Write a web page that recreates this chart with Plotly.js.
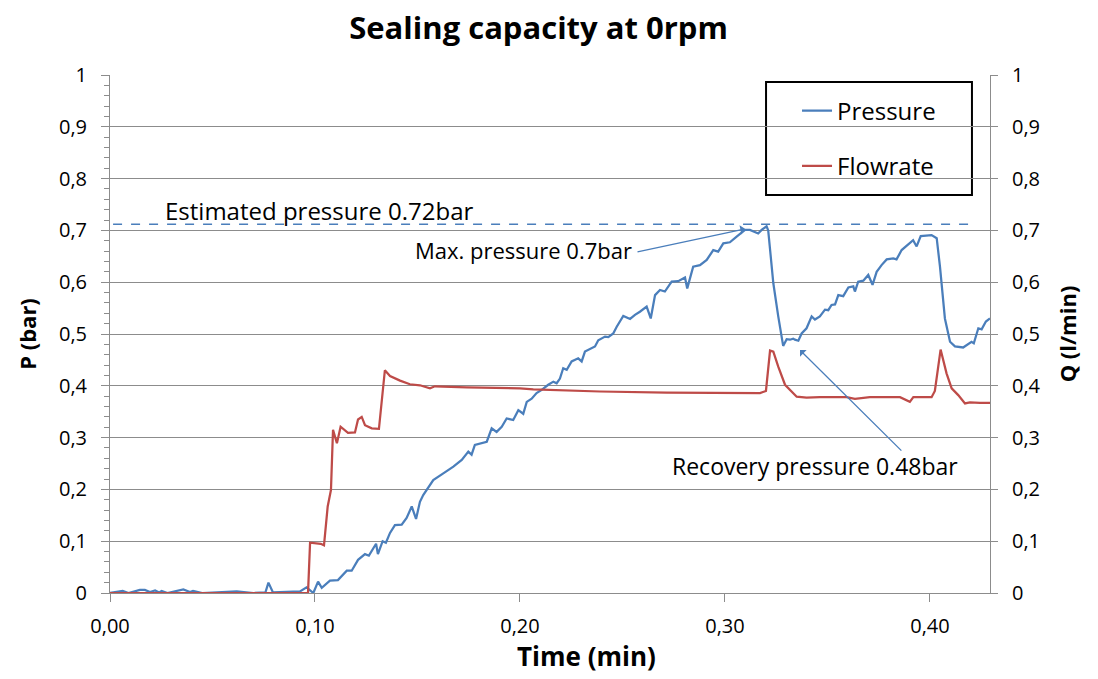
<!DOCTYPE html>
<html>
<head>
<meta charset="utf-8">
<script src="https://cdn.plot.ly/plotly-3.0.1.min.js"></script>
<style>html,body{margin:0;padding:0;background:#fff;}#chart{width:1098px;height:679px;}</style>
</head>
<body>
<div id="chart"></div>
<script>
// ---- Data ----
const pressureTime = [0,0.0062,0.009,0.0146,0.017,0.0195,0.022,0.024,0.0252,0.028,0.0358,0.039,0.0405,0.045,0.0618,0.07,0.0758,0.0773,0.0795,0.085,0.0927,0.0959,0.0992,0.1015,0.1033,0.1073,0.1112,0.1155,0.1179,0.121,0.1244,0.1263,0.1298,0.1307,0.133,0.1346,0.1366,0.139,0.1423,0.1447,0.1472,0.1493,0.1512,0.1528,0.1577,0.1626,0.1675,0.1716,0.1748,0.1764,0.178,0.1838,0.1862,0.1886,0.1911,0.1935,0.1967,0.1992,0.2016,0.2033,0.2057,0.2081,0.2106,0.2138,0.2163,0.2179,0.2195,0.2211,0.2228,0.2252,0.2284,0.2301,0.2317,0.2366,0.2382,0.2415,0.2431,0.2455,0.2472,0.2504,0.2537,0.2561,0.2585,0.2618,0.2638,0.2659,0.2683,0.2707,0.274,0.2772,0.2805,0.2816,0.2845,0.2878,0.2911,0.2943,0.2967,0.2992,0.3024,0.3057,0.3098,0.3122,0.3138,0.3162,0.3179,0.3203,0.3211,0.3236,0.326,0.3284,0.3301,0.3317,0.3333,0.3341,0.3358,0.3374,0.3398,0.3423,0.3439,0.3463,0.3488,0.3504,0.352,0.3537,0.3553,0.3577,0.3602,0.3626,0.3634,0.365,0.3675,0.3699,0.372,0.374,0.3764,0.3789,0.3821,0.3837,0.3862,0.3894,0.3918,0.3935,0.3955,0.4008,0.4033,0.4049,0.4073,0.4098,0.4122,0.4162,0.4179,0.4203,0.4214,0.4236,0.4252,0.4273,0.4293];
const pressure = [0,0.004,0,0.006,0.006,0.002,0.005,0.001,0.004,0,0.007,0.002,0.004,0,0.003,0,0.001,0.02,0.001,0.002,0.003,0.011,0,0.022,0.01,0.024,0.025,0.043,0.043,0.064,0.075,0.072,0.095,0.075,0.1,0.097,0.116,0.131,0.132,0.145,0.167,0.143,0.176,0.189,0.218,0.231,0.244,0.257,0.273,0.267,0.286,0.292,0.318,0.311,0.321,0.337,0.334,0.353,0.346,0.369,0.375,0.386,0.392,0.402,0.408,0.405,0.414,0.434,0.431,0.447,0.453,0.447,0.466,0.476,0.488,0.495,0.494,0.501,0.514,0.535,0.529,0.537,0.543,0.553,0.53,0.575,0.585,0.582,0.601,0.602,0.609,0.588,0.63,0.633,0.643,0.662,0.659,0.675,0.677,0.688,0.701,0.701,0.698,0.694,0.701,0.708,0.7,0.598,0.534,0.477,0.49,0.489,0.491,0.489,0.487,0.501,0.511,0.534,0.528,0.534,0.547,0.546,0.556,0.557,0.575,0.573,0.59,0.592,0.582,0.601,0.603,0.614,0.595,0.62,0.633,0.644,0.646,0.644,0.662,0.672,0.681,0.669,0.689,0.691,0.685,0.63,0.53,0.485,0.476,0.474,0.479,0.485,0.482,0.511,0.509,0.524,0.53];
const flowTime = [0,0.0966,0.0976,0.1028,0.1044,0.1062,0.1078,0.1088,0.1107,0.1125,0.1161,0.1195,0.121,0.1228,0.1244,0.1277,0.1312,0.133,0.1341,0.1366,0.1415,0.1463,0.1512,0.1561,0.1585,0.174,0.2,0.2065,0.239,0.2715,0.304,0.3121,0.3171,0.32,0.322,0.3236,0.326,0.3293,0.3317,0.335,0.3398,0.3463,0.3593,0.3634,0.3707,0.3854,0.3902,0.3919,0.4008,0.4024,0.4052,0.4081,0.4106,0.4138,0.4171,0.4195,0.4244,0.4293];
const flowrate = [0,0,0.097,0.095,0.092,0.167,0.199,0.315,0.289,0.321,0.309,0.31,0.335,0.34,0.324,0.318,0.317,0.385,0.43,0.419,0.41,0.403,0.401,0.395,0.399,0.397,0.395,0.393,0.389,0.387,0.386,0.387,0.386,0.39,0.468,0.466,0.437,0.402,0.392,0.379,0.377,0.378,0.378,0.375,0.378,0.378,0.369,0.378,0.378,0.39,0.47,0.424,0.395,0.382,0.366,0.368,0.367,0.367];
const estimatedLine = {t0: 0.0015, t1: 0.4203, level: 0.712};
const maxPoint = {t: 0.3098, p: 0.703};
const recoveryPoint = {t: 0.3366, p: 0.469};
const xTickVals = [0, 0.1, 0.2, 0.3, 0.4];

const blue = '#4A7EBB', red = '#BE4B48', grid = '#8C8C8C';
const FONT = '"Open Sans", "Noto Sans", sans-serif';

const traces = [
  {x: pressureTime, y: pressure, name: 'Pressure', type: 'scatter', mode: 'lines',
   line: {color: blue, width: 2.25}, legendgroup: 'p', yaxis: 'y'},
  {x: flowTime, y: flowrate, name: 'Flowrate', type: 'scatter', mode: 'lines',
   line: {color: red, width: 2.25}, legendgroup: 'f', yaxis: 'y2'}
];

const axisCommon = {
  range: [0, 1], dtick: 0.1, tick0: 0, showline: true, linecolor: grid, linewidth: 1,
  ticks: 'outside', tickcolor: grid, ticklen: 8, zeroline: false,
  tickfont: {family: FONT, size: 20, color: '#000'}
};

const layout = {
  width: 1098, height: 679,
  margin: {l: 110, r: 108, t: 75, b: 86},
  paper_bgcolor: '#fff', plot_bgcolor: '#fff',
  separators: ', ',
  font: {family: FONT, color: '#000'},
  title: {text: '<b>Sealing capacity at 0rpm</b>', font: {family: FONT, size: 31, color: '#000'},
          x: 0.487, xanchor: 'center', y: 0.958, yanchor: 'middle', xref: 'paper'},
  xaxis: {range: [0, 0.4293], tickvals: xTickVals, tickformat: '.2f', showline: true, linecolor: grid,
          ticks: 'outside', tickcolor: grid, ticklen: 8, showgrid: false, zeroline: false,
          ticklabelstandoff: 7,
          tickfont: {family: FONT, size: 20, color: '#000'}},
  yaxis: Object.assign({}, axisCommon, {
    showgrid: true, gridcolor: grid, gridwidth: 1, ticklabelstandoff: 10,
    minor: {dtick: 0.02, ticks: 'outside', ticklen: 5, tickcolor: grid, showgrid: false},
    title: {text: '<b>P (bar)</b>', font: {family: FONT, size: 22, color: '#000'}, standoff: 16}
  }),
  yaxis2: Object.assign({}, axisCommon, {
    overlaying: 'y', side: 'right', showgrid: false, ticklen: 7, ticklabelstandoff: 10,
    title: {text: '<b>Q (l/min)</b>', font: {family: FONT, size: 22, color: '#000'}, standoff: 20}
  }),
  showlegend: true,
  legend: {x: 0.7807, y: 0.974, xanchor: 'left', yanchor: 'top', bgcolor: 'rgba(0,0,0,0)',
           borderwidth: 0, font: {family: FONT, size: 24, color: '#000'},
           traceorder: 'grouped', tracegroupgap: 21, itemwidth: 30},
  shapes: [
    {type: 'rect', xref: 'paper', yref: 'paper', x0: 0.7455, x1: 0.9795, y0: 0.7683, y1: 0.9865,
     line: {color: '#000', width: 2}, fillcolor: '#fff', layer: 'between'},
    {type: 'line', xref: 'x', yref: 'y', x0: estimatedLine.t0, x1: estimatedLine.t1,
     y0: estimatedLine.level, y1: estimatedLine.level, line: {color: blue, width: 1.5, dash: 'dash'}}
  ],
  annotations: [
    {xref: 'x', yref: 'y', x: 0.102, y: 0.739, xanchor: 'center', yanchor: 'middle', text: 'Estimated pressure 0.72bar', showarrow: false,
     font: {family: FONT, size: 24, color: '#000'}},
    {xref: 'x', yref: 'y', x: 0.2015, y: 0.662, xanchor: 'center', yanchor: 'middle', text: 'Max. pressure 0.7bar', showarrow: false,
     font: {family: FONT, size: 22, color: '#000'}},
    {xref: 'x', yref: 'y', x: maxPoint.t, y: maxPoint.p, axref: 'x', ayref: 'y', ax: 0.2566, ay: 0.658,
     text: '', showarrow: true, arrowhead: 1, arrowsize: 1.2, arrowwidth: 1.3, arrowcolor: blue, standoff: 0},
    {xref: 'x', yref: 'y', x: 0.344, y: 0.245, xanchor: 'center', yanchor: 'middle', text: 'Recovery pressure 0.48bar', showarrow: false,
     font: {family: FONT, size: 23, color: '#000'}},
    {xref: 'x', yref: 'y', x: recoveryPoint.t, y: recoveryPoint.p, axref: 'x', ayref: 'y', ax: 0.3868, ay: 0.272,
     text: '', showarrow: true, arrowhead: 1, arrowsize: 1.2, arrowwidth: 1.3, arrowcolor: blue, standoff: 0},
    {xref: 'paper', yref: 'paper', x: 0.541, y: -0.16, xanchor: 'center', yanchor: 'bottom', text: '<b>Time (min)</b>', showarrow: false,
     font: {family: FONT, size: 26, color: '#000'}}
  ]
};

Plotly.newPlot('chart', traces, layout, {displayModeBar: false, staticPlot: true});
</script>
</body>
</html>
